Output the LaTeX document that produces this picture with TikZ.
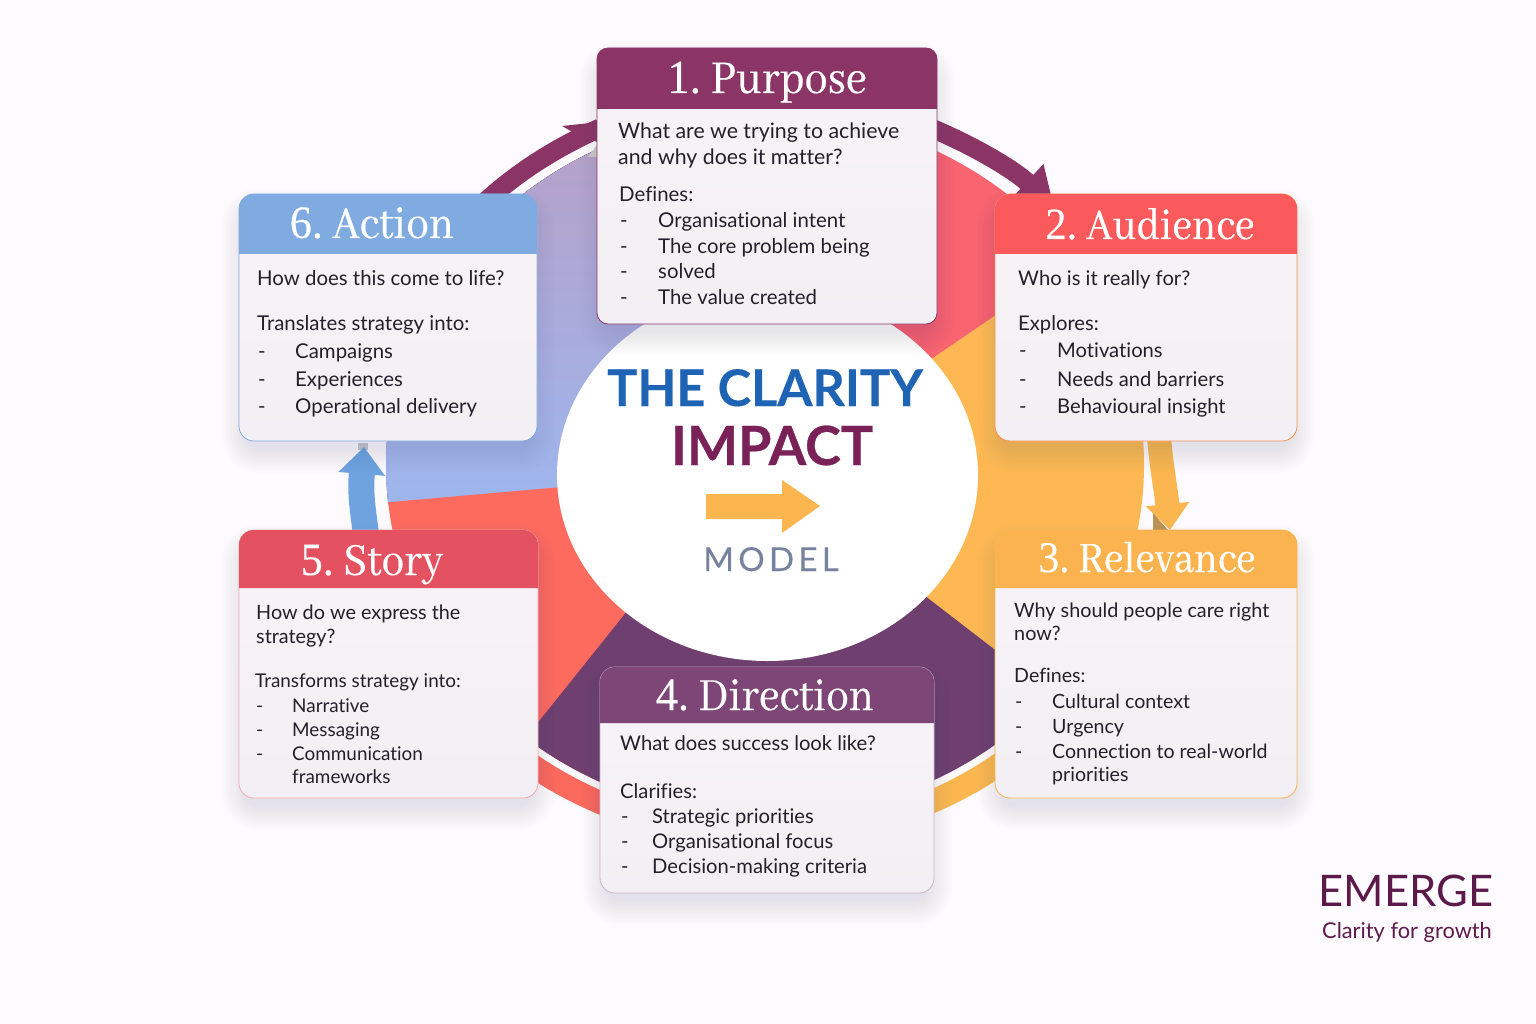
\documentclass[tikz,border=0pt]{standalone}
\usepackage{fontspec}
\setmainfont[Ligatures=NoCommon]{Lato}
\newfontfamily\titlefont[FakeStretch=0.9,FakeBold=0.35]{Abhaya Libre}
\newfontfamily\digitfont[FakeStretch=0.95,FakeBold=0.2]{Liberation Serif}
\usetikzlibrary{arrows.meta,shapes.geometric}
\definecolor{bgc}{HTML}{FDFBFE}
\definecolor{cPurple}{HTML}{8B3566}
\definecolor{cAud}{HTML}{FB5A5C}
\definecolor{cRel}{HTML}{FBB34F}
\definecolor{cDir}{HTML}{7D4677}
\definecolor{cSto}{HTML}{E45261}
\definecolor{cAct}{HTML}{7FABE1}
\definecolor{secA}{HTML}{F8646F}
\definecolor{secB}{HTML}{FDB853}
\definecolor{secC}{HTML}{6F3F6F}
\definecolor{secD}{HTML}{FD6B5F}
\definecolor{secE}{HTML}{B79FC6}
\definecolor{secF}{HTML}{9DB6EE}
\definecolor{ringRed}{HTML}{FB6A5C}
\definecolor{ringOr}{HTML}{FBB64F}
\definecolor{ringBl}{HTML}{6FA3DF}
\definecolor{tBody}{HTML}{23202B}
\definecolor{tBlue}{HTML}{1F63B5}
\definecolor{tImp}{HTML}{7A2158}
\definecolor{tMod}{HTML}{76829E}
\definecolor{tLogo}{HTML}{5C1A4B}
\definecolor{shc}{HTML}{504A70}
\definecolor{bodyTop}{HTML}{F8F3F6}
\definecolor{bodyBot}{HTML}{F2F0F4}
\tikzset{
  cardbody/.style={rounded corners=\crad pt,top color=bodyTop,bottom color=bodyBot,inner sep=0pt,line width=.8pt},
  cardtitle/.style={text=white,inner sep=0pt},
  bodytext/.style={anchor=base west,inner sep=0pt,text=tBody,font=\fontsize{\bsize}{\bsize}\selectfont},
}
\newcommand\bsize{21}
\newcommand\crad{14}
\newcommand\tl[4]{\node[bodytext] (#1) at (#2,#3) {#4};}
% name x1 y1 x2 y2 ybar barcolor edgecolor
\newcommand\cardbox[8]{%
  \pgfmathsetmacro\cw{#4-#2}\pgfmathsetmacro\ch{#5-#3}%
  \pgfmathsetmacro\mx{(#2+#4)/2}\pgfmathsetmacro\my{(#3+#5)/2}%
  \foreach \i in {0,2,...,24}{%
    \pgfmathsetmacro\rr{14+\i}
    \fill[shc,opacity=.009,rounded corners=\rr pt] (#2-\i+6,#3-\i+18) rectangle (#4+\i-6,#5+\i+8);}
  \node[cardbody,draw=#8,minimum width=\cw pt,minimum height=\ch pt] (#1) at (\mx,\my) {};
  \fill[#7] (#2,#6) [rounded corners=\crad pt] -- (#2,#3) -- (#4,#3) [sharp corners] -- (#4,#6) -- cycle;
}
% name x baseline size digit rest
\newcommand\cardtitletext[6]{\pgfmathsetmacro\dgs{#4*.92}\node[cardtitle,anchor=base,font=\titlefont\fontsize{#4}{#4}\selectfont] (#1) at (#2,#3) {{\digitfont\fontsize{\dgs}{\dgs}\selectfont #5.}\kern-2pt #6};}
\begin{document}
\begin{tikzpicture}[x=1pt,y=-1pt]
\useasboundingbox (0,0) rectangle (1536,1024);
\fill[bgc] (0,0) rectangle (1536,1024);

% outer bottom rings
\draw[ringRed,line width=23pt] plot[domain=105:143,samples=30] ({765+397*cos(\x)},{465+371*sin(\x)});
\draw[ringOr,line width=23pt] plot[domain=37:75,samples=30] ({765+397*cos(\x)},{465+371*sin(\x)});

% pie
\begin{scope}
\clip (765,465) ellipse [x radius=379,y radius=352];
\fill[top color=secE,bottom color=secF] (767,472) -- (300,511) -- (300,110) -- (767,110) -- cycle;
\fill[secA] (767,472) -- (767,50) -- (1300,50) -- (1300,109) -- cycle;
\fill[secD] (767,469) -- (300,510) -- (300,900) -- (800,900) -- cycle;
\fill[secB] (767,471) -- (1200,176) -- (1300,176) -- (1300,900) -- (1200,900) -- cycle;
\fill[secC] (740,470) -- (767,474) -- (1200,808) -- (1200,900) -- (400,895) -- cycle;
\end{scope}

% centre disc
\node[ellipse,fill=white,inner sep=0pt,minimum width=421pt,minimum height=372pt] (hub) at (767.5,475) {};

% connector coordinates
\coordinate (ao1) at (474.7,212);
\coordinate (ai1) at (600,128);
\coordinate (ao2) at (913.7,121);
\coordinate (ai2) at (1054,207);
\coordinate (ao3) at (1159,436);
\coordinate (ai3) at (1170,530);
\coordinate (ao5) at (366,535);
\coordinate (ai5) at (364,447);
\coordinate (hb1) at (562,126);
\coordinate (hb2) at (600,122);
\coordinate (hb3) at (600,143);
\coordinate (hb4) at (576,134);

\draw[cPurple,line width=19pt] (ao1) .. controls (510,176.5) and (553,149) .. (ai1);
\fill[cPurple] (hb1) -- (hb2) -- (hb3) -- (hb4) -- cycle;
\fill[black!22!white] (588,157) -- (597,145) -- (597,157) -- cycle;
\draw[cPurple,line width=19pt,-{Triangle[length=37pt,width=46pt]}] (ao2) .. controls (965,140.5) and (1012,168) .. (ai2);
\draw[ringOr,line width=24pt,-{Triangle[length=26pt,width=42pt]}] (ao3) .. controls (1161,465) and (1166,490) .. (ai3);
\fill[ringOr!70!black!85!white] (1153,513) -- (1168,530) -- (1153,530) -- cycle;
\fill[shc!35!white] (358,443) rectangle (368,450);
\draw[ringBl,line width=26pt,-{Triangle[length=27pt,width=45pt]}] (ao5) .. controls (363,510) and (360,495) .. (ai5);

% cards
\renewcommand\crad{11}
\cardbox{c1}{597}{48}{937}{324}{109}{cPurple}{cPurple}
\renewcommand\crad{15}
\cardbox{c2}{995}{194}{1297}{441}{254}{cAud}{cRel!60!cAud}
\cardbox{c3}{995}{530}{1297}{798}{588}{cRel}{cRel}
\cardbox{c4}{600}{667}{934}{893}{723}{cDir}{cDir!40!white}
\cardbox{c5}{239}{530}{538}{798}{588}{cSto}{cSto!50!white}
\cardbox{c6}{239}{194}{537}{441}{254}{cAct}{cAct}

\cardtitletext{t1}{767}{93}{51.5}{1}{ Purpose}
\cardtitletext{t2}{1150}{239}{48.5}{2}{ Audience}
\cardtitletext{t3}{1147}{572}{47.5}{3}{ Relevance}
\cardtitletext{t4}{765}{710}{50.5}{4}{ Direction}
\cardtitletext{t5}{372}{575}{50.5}{5}{ Story}
\cardtitletext{t6}{372}{238}{50.5}{6}{ Action}

% card 1
\renewcommand\bsize{21.3}
\tl{a1}{618}{138.5}{What are we trying to achieve}
\tl{a2}{618}{164.5}{and why does it matter?}
\renewcommand\bsize{20.4}
\tl{a3}{619}{201.5}{Defines:}
\tl{a4}{620}{228}{-}\tl{a5}{658}{228}{Organisational intent}
\tl{a6}{620}{254}{-}\tl{a7}{658}{254}{The core problem being}
\tl{a8}{620}{279}{-}\tl{a9}{658}{279}{solved}
\tl{a10}{620}{305}{-}\tl{a11}{658}{305}{The value created}
% card 2
\renewcommand\bsize{20.2}
\tl{b1}{1018}{285}{Who is it really for?}
\tl{b2}{1018}{330}{Explores:}
\tl{b3}{1019}{357}{-}\tl{b4}{1057}{357}{Motivations}
\tl{b5}{1019}{386}{-}\tl{b6}{1057}{386}{Needs and barriers}
\tl{b7}{1019}{413}{-}\tl{b8}{1057}{413}{Behavioural insight}
% card 3
\renewcommand\bsize{19.8}
\tl{d1}{1014}{617}{Why should people care right}
\tl{d2}{1014}{640}{now?}
\renewcommand\bsize{19.6}
\tl{d3}{1014}{682}{Defines:}
\tl{d4}{1015}{708}{-}\tl{d5}{1052}{708}{Cultural context}
\tl{d6}{1015}{733}{-}\tl{d7}{1052}{733}{Urgency}
\tl{d8}{1015}{758}{-}\tl{d9}{1052}{758}{Connection to real-world}
\tl{d10}{1052}{781}{priorities}
% card 4
\renewcommand\bsize{20.2}
\tl{e1}{620}{750}{What does success look like?}
\tl{e2}{620}{798}{Clarifies:}
\tl{e3}{621}{823}{-}\tl{e4}{652}{823}{Strategic priorities}
\tl{e5}{621}{848}{-}\tl{e6}{652}{848}{Organisational focus}
\tl{e7}{621}{873}{-}\tl{e8}{652}{873}{Decision-making criteria}
% card 5
\renewcommand\bsize{19.8}
\tl{f1}{256}{619}{How do we express the}
\tl{f2}{256}{643}{strategy?}
\renewcommand\bsize{18.9}
\tl{f3}{255}{687}{Transforms strategy into:}
\tl{f4}{256}{712}{-}\tl{f5}{292}{712}{Narrative}
\tl{f6}{256}{736}{-}\tl{f7}{292}{736}{Messaging}
\tl{f8}{256}{760}{-}\tl{f9}{292}{760}{Communication}
\tl{f10}{292}{783}{frameworks}
% card 6
\renewcommand\bsize{20.4}
\tl{g1}{257}{285}{How does this come to life?}
\tl{g2}{257}{330}{Translates strategy into:}
\tl{g3}{258}{358}{-}\tl{g4}{295}{358}{Campaigns}
\tl{g5}{258}{386}{-}\tl{g6}{295}{386}{Experiences}
\tl{g7}{258}{413}{-}\tl{g8}{295}{413}{Operational delivery}

% centre
\node[anchor=base,inner sep=0pt,text=tBlue,font=\bfseries\fontsize{50.5}{50}\selectfont\addfontfeatures{FakeBold=0.3}] (h1) at (765,406) {THE CLARITY};
\node[anchor=base,inner sep=0pt,text=tImp,font=\bfseries\fontsize{54}{54}\selectfont\addfontfeatures{FakeBold=0.5}] (h2) at (772,465) {IMPACT};
\fill[ringOr] (706,494) -- (782,494) -- (782,480) -- (820,506) -- (782,533) -- (782,519) -- (706,519) -- cycle;
\node[anchor=base,inner sep=0pt,text=tMod,font=\fontsize{33}{33}\selectfont\addfontfeatures{LetterSpace=13,FakeBold=0.3}] (h3) at (771,571) {MODEL};

% logo
\node[anchor=base,inner sep=0pt,text=tLogo,font=\fontsize{43.5}{44}\selectfont] (l1) at (1406,906) {EMERGE};
\node[anchor=base,inner sep=0pt,text=tLogo,font=\fontsize{21.8}{22}\selectfont] (l2) at (1407,938) {Clarity for growth};
\end{tikzpicture}
\end{document}
